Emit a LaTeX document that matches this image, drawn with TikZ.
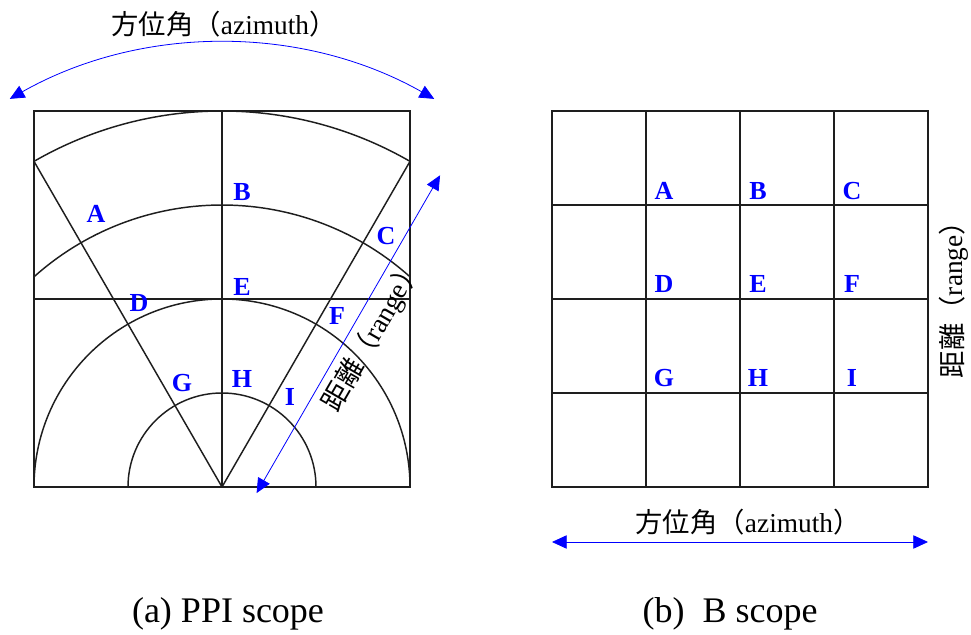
\documentclass[tikz,border=0pt]{standalone}
\usepackage{fontspec}
\setmainfont{Liberation Serif}
\newfontfamily\jpfont{Noto Sans CJK JP}
\usetikzlibrary{arrows.meta,calc}
\definecolor{scopeblue}{RGB}{0,0,255}
\definecolor{scopegray}{RGB}{30,30,30}

\begin{document}
\begin{tikzpicture}[x=0.75pt, y=0.75pt,
  scopeline/.style={draw=scopegray, line width=1.1pt},
  axisarrow/.style={draw=scopeblue, line width=0.6pt, {Triangle[length=11pt,width=10pt]}-{Triangle[length=11pt,width=10pt]}},
  cell/.style={text=scopeblue, font=\fontsize{19.5}{19.5}\selectfont\bfseries, inner sep=0pt},
  axislabel/.style={font=\fontsize{20.5}{23}\selectfont, inner sep=1pt},
  caption/.style={font=\fontsize{27}{30}\selectfont}]
\useasboundingbox (0,0) rectangle (971,635);

\coordinate (O) at (222,148);
\draw[scopeline] (34,148) rectangle (410,524);
\draw[scopeline] (O) -- (222,524);
\draw[scopeline] (34,336) -- (410,336);
\draw[scopeline] (O) -- ++(120:376);
\draw[scopeline] (O) -- ++(60:376);
\draw[scopeline] ($(O)+(60:376)$) arc[start angle=60, end angle=120, radius=376];
\draw[scopeline] ($(O)+(48.2:282)$) arc[start angle=48.2, end angle=131.8, radius=282];
\draw[scopeline] ($(O)+(0:188)$) arc[start angle=0, end angle=180, radius=188];
\draw[scopeline] ($(O)+(0:94)$) arc[start angle=0, end angle=180, radius=94];

\node[cell] (pA) at (96,421) {A};
\node[cell] (pB) at (242,443) {B};
\node[cell] (pC) at (386,399) {C};
\node[cell] (pD) at (139,332) {D};
\node[cell] (pE) at (242,348) {E};
\node[cell] (pF) at (337,319) {F};
\node[cell] (pG) at (182,252) {G};
\node[cell] (pH) at (242,256) {H};
\node[cell] (pI) at (290,238) {I};

\coordinate (azL) at ($(222,161)+(119.5:431)$);
\draw[axisarrow] (azL) arc[start angle=119.5, end angle=60.5, radius=431];
\node[axislabel] (azA) at (224,611) {{\jpfont 方位角（}azimuth{\jpfont ）}};

\coordinate (rgS) at ($(O)+(60:12)+(-30:33)$);
\coordinate (rgE) at ($(O)+(60:379)+(-30:33)$);
\draw[axisarrow] (rgS) -- (rgE) node[axislabel, pos=0.53, sloped, below=4pt] (rgA) {{\jpfont 距離（}range{\jpfont ）}};

\draw[scopeline] (552,148) rectangle (928,524);
\foreach \k in {1,2,3} {
  \draw[scopeline] (552+94*\k,148) -- (552+94*\k,524);
  \draw[scopeline] (552,148+94*\k) -- (928,148+94*\k);
}

\node[cell] (bA) at (664,444) {A};
\node[cell] (bB) at (758,444) {B};
\node[cell] (bC) at (852,444) {C};
\node[cell] (bD) at (664,351) {D};
\node[cell] (bE) at (758,351) {E};
\node[cell] (bF) at (852,351) {F};
\node[cell] (bG) at (664,257) {G};
\node[cell] (bH) at (758,257) {H};
\node[cell] (bI) at (852,257) {I};

\coordinate (bL) at (552,93);
\coordinate (bR) at (928,93);
\draw[axisarrow] (bL) -- (bR);
\node[axislabel] (azB) at (748,113) {{\jpfont 方位角（}azimuth{\jpfont ）}};
\node[axislabel, rotate=90] (rgB) at (954,342) {{\jpfont 距離（}range{\jpfont ）}};

\node[caption] (capA) at (228,21) {(a) PPI scope};
\node[caption] (capB) at (730,21) {(b)\ \ B scope};
\end{tikzpicture}
\end{document}
